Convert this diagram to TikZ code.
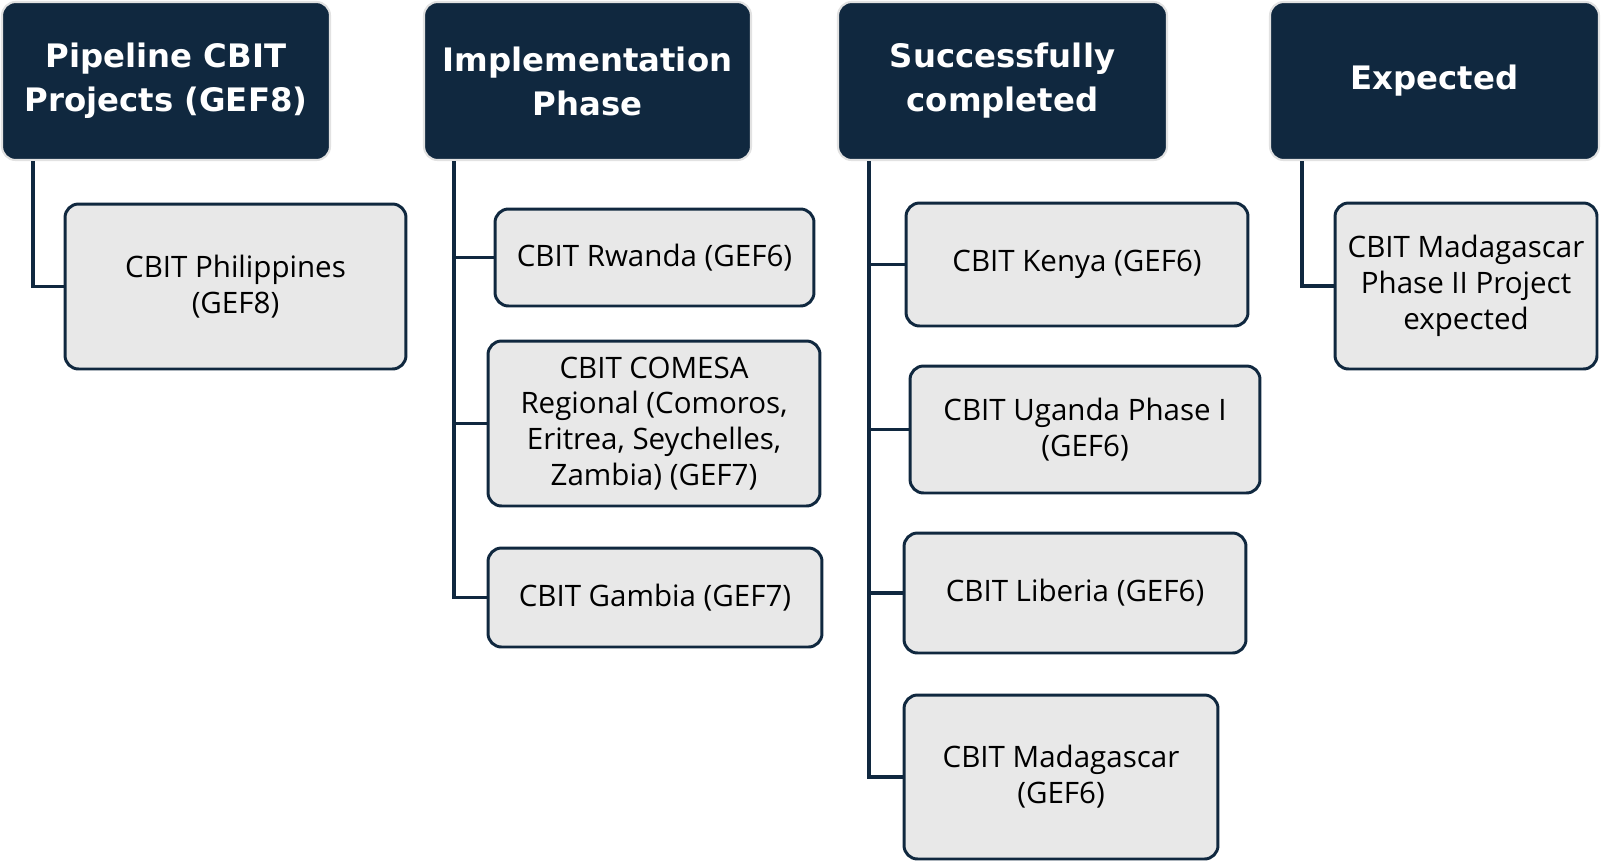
\documentclass[tikz,border=0pt]{standalone}
\usepackage{fontspec}
\setmainfont{Open Sans}
\newfontfamily\headfont{DejaVu Sans}
\usetikzlibrary{positioning}
\definecolor{navy}{HTML}{10283F}
\definecolor{boxgray}{HTML}{E8E8E8}
\definecolor{rimgray}{HTML}{E2E2E2}
\tikzset{
  head/.style={draw=rimgray, line width=1.2pt, fill=navy, rounded corners=0.27cm, align=center,
    text=white, font=\headfont\bfseries\fontsize{18.4}{25}\selectfont, minimum height=3.16cm, inner sep=0pt},
  proj/.style={draw=navy, line width=1.7pt, fill=boxgray, rounded corners=0.27cm, align=center,
    font=\fontsize{16.8}{20.4}\selectfont, inner sep=0pt},
  link/.style={draw=navy, line width=1.8pt}
}

\begin{document}
\begin{tikzpicture}[x=0.02cm, y=-0.02cm]
\useasboundingbox (0,0) rectangle (1601,863);
\node[head, minimum width=6.56cm] (h1) at (166,81) {Pipeline CBIT\\Projects (GEF8)};
\node[head, minimum width=6.54cm] (h2) at (587.5,81) {Implementation\\Phase};
\node[head, minimum width=6.58cm] (h3) at (1002.5,81) {Successfully\\completed};
\node[head, minimum width=6.58cm] (h4) at (1434.5,81) {Expected};
\node[proj, minimum width=6.82cm, minimum height=3.30cm] (phil) at (235.5,286.5) {CBIT Philippines\\(GEF8)};
\node[proj, minimum width=6.38cm, minimum height=1.94cm] (rwanda) at (654.5,257.5) {CBIT Rwanda (GEF6)};
\node[proj, minimum width=6.64cm, minimum height=3.30cm] (comesa) at (654,423.5) {CBIT COMESA\\Regional (Comoros,\\Eritrea, Seychelles,\\Zambia) (GEF7)};
\node[proj, minimum width=6.68cm, minimum height=1.98cm] (gambia) at (655,597.5) {CBIT Gambia (GEF7)};
\node[proj, minimum width=6.84cm, minimum height=2.46cm] (kenya) at (1077,264.5) {CBIT Kenya (GEF6)};
\node[proj, minimum width=7.00cm, minimum height=2.54cm] (uganda) at (1085,429.5) {CBIT Uganda Phase I\\(GEF6)};
\node[proj, minimum width=6.84cm, minimum height=2.40cm] (liberia) at (1075,593) {CBIT Liberia (GEF6)};
\node[proj, minimum width=6.28cm, minimum height=3.28cm] (madag) at (1061,777) {CBIT Madagascar\\(GEF6)};
\node[proj, minimum width=5.24cm, minimum height=3.32cm] (madtwo) at (1466,286) {CBIT Madagascar\\Phase II Project\\expected};
% Lines
\draw[link] ([xshift=0.64cm]h1.south west) |- (phil.west);
\draw[link] ([xshift=0.62cm]h2.south west) |- (rwanda.west);
\draw[link] ([xshift=0.62cm]h2.south west) |- (comesa.west);
\draw[link] ([xshift=0.62cm]h2.south west) |- (gambia.west);
\draw[link] ([xshift=0.64cm]h3.south west) |- (kenya.west);
\draw[link] ([xshift=0.64cm]h3.south west) |- (uganda.west);
\draw[link] ([xshift=0.64cm]h3.south west) |- (liberia.west);
\draw[link] ([xshift=0.64cm]h3.south west) |- (madag.west);
\draw[link] ([xshift=0.66cm]h4.south west) |- (madtwo.west);
\end{tikzpicture}
\end{document}
